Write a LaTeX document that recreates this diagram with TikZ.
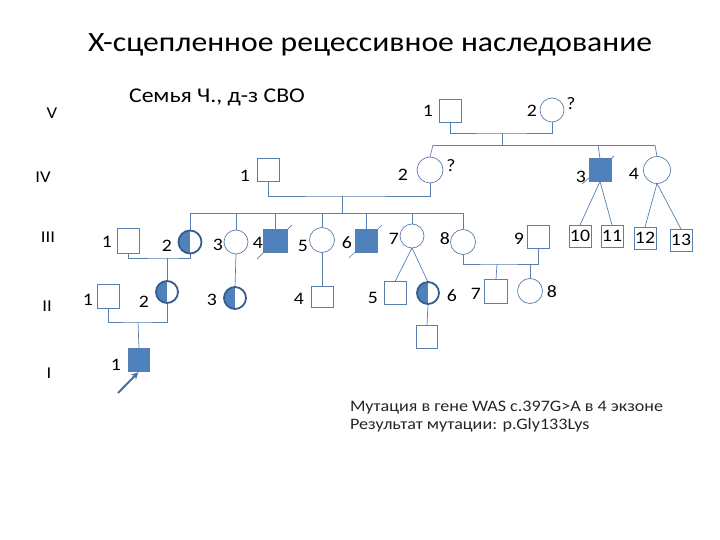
\documentclass[tikz,border=0pt]{standalone}
\usepackage{graphicx}
\usepackage{fontspec}
\setmainfont{Carlito}
\usetikzlibrary{backgrounds,arrows.meta}
\definecolor{bl}{HTML}{4F81BD}
\definecolor{ln}{HTML}{5A7FAE}
\definecolor{dk}{HTML}{385D8A}
\definecolor{arr}{HTML}{4A6FA5}
\newcommand\hsx[1]{\scalebox{1.13}[1]{#1}}
\begin{document}
\begin{tikzpicture}[x=1pt,y=-1pt,
  every node/.style={inner sep=0pt,outer sep=0pt},
  sq/.style={draw=ln,line width=0.7pt,minimum width=22pt,minimum height=23pt,fill=white},
  ci/.style={draw=ln,line width=0.7pt,circle,minimum size=25pt,fill=white},
  aff/.style={fill=bl},
  car/.style={circle,minimum size=22pt,draw=dk,line width=1.8pt,fill=white,
    path picture={\fill[bl] (path picture bounding box.south west) rectangle (path picture bounding box.north);}},
  num/.style={font=\fontsize{17.5}{17.5}\selectfont},
  gen/.style={font=\fontsize{16.5}{16.5}\selectfont},
  leg/.style={anchor=base west,font=\fontsize{16}{16}\selectfont,text=black!85},
  conn/.style={draw=ln,line width=0.7pt}]
\useasboundingbox (0,0) rectangle (720,540);

% titles
\node (title) at (370,45) {\fontsize{28}{28}\selectfont\hsx{X-сцепленное рецессивное наследование}};
\node (sub) at (217,97) {\fontsize{21}{21}\selectfont\hsx{Семья Ч., д-з СВО}};

% generation labels
\node[gen] (gV) at (52,113) {\hsx{V}};
\node[gen] (gIV) at (43,177) {\hsx{IV}};
\node[gen] (gIII) at (48,237) {\hsx{III}};
\node[gen] (gII) at (47,306) {\hsx{II}};
\node[gen] (gI) at (49,373) {\hsx{I}};

% generation V
\node[sq] (v1) at (450,111) {};
\node[ci,minimum size=24pt] (v2) at (552,110) {};
% generation IV
\node[sq] (iv1) at (268,170) {};
\node[ci,minimum size=26pt] (iv2) at (430,170) {};
\node[sq,aff] (iv3) at (600,170) {};
\node[ci,minimum size=27pt] (iv4) at (657,170) {};
% generation III
\node[sq,minimum height=25pt] (iii1) at (128,241) {};
\node[car,minimum size=23pt] (iii2) at (190,242) {};
\node[ci,minimum size=24pt] (iii3) at (236,242) {};
\node[sq,aff,minimum width=24pt] (iii4) at (275,241) {};
\node[ci] (iii5) at (322,240) {};
\node[sq,aff] (iii6) at (366,241) {};
\node[ci,minimum size=24pt] (iii7) at (412,236) {};
\node[ci] (iii8) at (463,242) {};
\node[sq] (iii9) at (538,237) {};
\node[sq,minimum height=22pt,num] (iii10) at (580,236) {\hsx{10}};
\node[sq,minimum height=22pt,num] (iii11) at (612,236) {\hsx{11}};
\node[sq,minimum height=22pt,num] (iii12) at (645,238) {\hsx{12}};
\node[sq,minimum height=22pt,num] (iii13) at (681,240) {\hsx{13}};
% generation II
\node[sq,minimum height=24pt] (ii1) at (108,296) {};
\node[car] (ii2) at (167,292) {};
\node[car] (ii3) at (235,298) {};
\node[sq,minimum height=21pt] (ii4) at (322,297) {};
\node[sq] (ii5) at (395,293) {};
\node[car] (ii6) at (428,293) {};
\node[sq,minimum width=23pt,minimum height=24pt] (ii7) at (496,291) {};
\node[ci] (ii8) at (530,291) {};
\node[sq,minimum width=21pt] (iix) at (427,337) {};
% generation I
\node[sq,aff,minimum width=21pt] (i1) at (139,360) {};

% number labels
\node[num] (lv1) at (428,111) {\hsx{1}};
\node[num] (lv2) at (532,111) {\hsx{2}};
\node[num] (qv2) at (571,104) {\hsx{?}};
\node[num] (liv1) at (245,176) {\hsx{1}};
\node[num] (liv2) at (403,175) {\hsx{2}};
\node[num] (qiv2) at (451,166) {\hsx{?}};
\node[num] (liv3) at (581,177) {\hsx{3}};
\node[num] (liv4) at (634,174) {\hsx{4}};
\node[num] (liii1) at (107,242) {\hsx{1}};
\node[num] (liii2) at (167,246) {\hsx{2}};
\node[num] (liii3) at (218,245) {\hsx{3}};
\node[num] (liii4) at (258,243) {\hsx{4}};
\node[num] (liii5) at (303,246) {\hsx{5}};
\node[num] (liii6) at (347,243) {\hsx{6}};
\node[num] (liii7) at (394,239) {\hsx{7}};
\node[num] (liii8) at (445,239) {\hsx{8}};
\node[num] (liii9) at (519,239) {\hsx{9}};
\node[num] (lii1) at (88,300) {\hsx{1}};
\node[num] (lii2) at (144,302) {\hsx{2}};
\node[num] (lii3) at (212,300) {\hsx{3}};
\node[num] (lii4) at (299,299) {\hsx{4}};
\node[num] (lii5) at (373,298) {\hsx{5}};
\node[num] (lii6) at (452,296) {\hsx{6}};
\node[num] (lii7) at (476,294) {\hsx{7}};
\node[num] (lii8) at (552,292) {\hsx{8}};
\node[num] (li1) at (116,365) {\hsx{1}};

% legend
\node[leg] (legend1) at (350,411) {\hsx{Мутация в гене WAS c.397G>A в 4 экзоне}};
\node[leg] (legend2) at (350,429) {\hsx{Результат мутации: p.Gly133Lys}};

% coordinates for connectors
\coordinate (vm) at (502,133);
\coordinate (vs) at (502,145);
\coordinate (vsl) at (433,145);
\coordinate (vsr) at (655,145);
\coordinate (vs3) at (598,145);
\coordinate (ivm) at (342,196);
\coordinate (ivs) at (342,213);
\coordinate (ivsl) at (190,213);
\coordinate (ivsr) at (463,213);
\coordinate (iiim) at (167,258);
\coordinate (iiim2) at (497,264);
\coordinate (iim) at (138,322);
\coordinate (arrt) at (118,393);

\begin{scope}[on background layer]
  % generation V
  \draw[conn] (v1.south) |- (vm) -| (v2.south);
  \draw[conn] (vm) -- (vs);
  \draw[conn] (vsl) -- (vsr);
  \draw[conn] (vsl) -- (iv2.north);
  \draw[conn] (vs3) -- (iv3.north);
  \draw[conn] (vsr) -- (iv4.north);
  % generation IV
  \draw[conn] (iv1.south) |- (ivm) -| (iv2.south);
  \draw[conn] (ivm) -- (ivs);
  \draw[conn] (ivsl) -- (ivsr);
  \draw[conn] (ivsl) -- (iii2.north);
  \draw[conn] (iii3.north |- ivsl) -- (iii3.north);
  \draw[conn] (iii4.north |- ivsl) -- (iii4.north);
  \draw[conn] (iii5.north |- ivsl) -- (iii5.north);
  \draw[conn] (iii6.north |- ivsl) -- (iii6.north);
  \draw[conn] (iii7.north |- ivsl) -- (iii7.north);
  \draw[conn] (ivsr) -- (iii8.north);
  \draw[conn] (iv3.south) -- (iii10.north);
  \draw[conn] (iv3.south) -- (iii11.north);
  \draw[conn] (iv4.south) -- (iii12.north);
  \draw[conn] (iv4.south) -- (iii13.north);
  % generation III
  \draw[conn] (iii1.south) |- (iiim) -| (iii2.south);
  \draw[conn] (iiim) -- (ii2.north);
  \draw[conn] (iii3.south) -- (ii3.north);
  \draw[conn] (iii5.south) -- (ii4.north);
  \draw[conn] (iii7.south) -- (ii5.north);
  \draw[conn] (iii7.south) -- (ii6.north);
  \draw[conn] (iii8.south) |- (iiim2) -| (iii9.south);
  \draw[conn] (iiim2) -- (ii7.north);
  \draw[conn] (ii8.north |- iiim2) -- (ii8.north);
  % generation II
  \draw[conn] (ii1.south) |- (iim) -| (ii2.south);
  \draw[conn] (iim) -- (i1.north);
  \draw[conn] (ii6.south) -- (iix.north);
  % deceased slashes
  \draw[conn] (iii4.center) ++(-18,18) -- ++(35,-34);
  \draw[conn] (iii6.center) ++(-17,17) -- ++(33,-33);
  \draw[conn] (iv3.center) ++(-18,14) -- ++(32,-28);
\end{scope}

% proband arrow
\draw[arr,line width=2pt,-{Stealth[length=7pt,width=7pt]},shorten >=1pt] (arrt) -- (i1.south);
\end{tikzpicture}
\end{document}
